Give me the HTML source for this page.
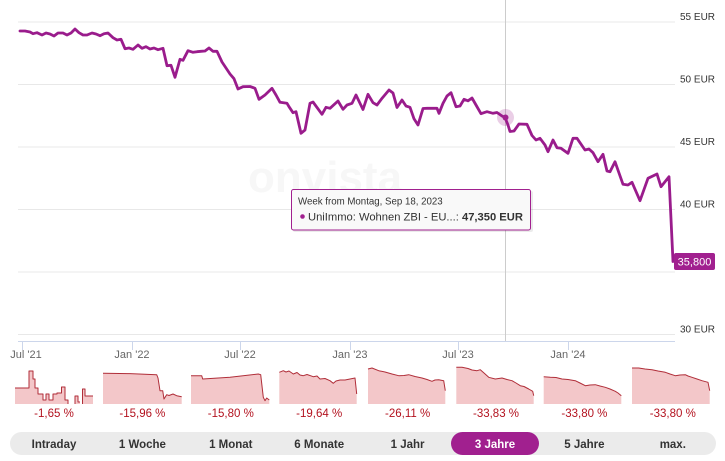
<!DOCTYPE html>
<html><head><meta charset="utf-8">
<style>
html,body{margin:0;padding:0;background:#fff;}
svg{display:block;font-family:"Liberation Sans",sans-serif;}
</style></head>
<body>
<svg width="725" height="461" viewBox="0 0 725 461" xmlns="http://www.w3.org/2000/svg">
<!-- watermark -->
<text x="248" y="192" font-size="44" font-weight="bold" fill="#f7f7f7">onvista</text>
<!-- gridlines -->
<g stroke="#e8e8e8" stroke-width="1">
<line x1="18" y1="22" x2="675" y2="22"/>
<line x1="18" y1="84.5" x2="675" y2="84.5"/>
<line x1="18" y1="147" x2="675" y2="147"/>
<line x1="18" y1="209.5" x2="675" y2="209.5"/>
<line x1="18" y1="272" x2="675" y2="272"/>
<line x1="18" y1="334.5" x2="675" y2="334.5"/>
</g>
<!-- x axis -->
<line x1="18" y1="341.5" x2="675" y2="341.5" stroke="#ccd6eb" stroke-width="1"/>
<g stroke="#ccd6eb" stroke-width="1">
<line x1="22.5" y1="341" x2="22.5" y2="350"/>
<line x1="132.5" y1="341" x2="132.5" y2="350"/>
<line x1="240.5" y1="341" x2="240.5" y2="350"/>
<line x1="350.5" y1="341" x2="350.5" y2="350"/>
<line x1="458.5" y1="341" x2="458.5" y2="350"/>
<line x1="568.5" y1="341" x2="568.5" y2="350"/>
</g>
<g font-size="11" fill="#666" text-anchor="middle">
<text x="26" y="358">Jul '21</text>
<text x="132" y="358">Jan '22</text>
<text x="240" y="358">Jul '22</text>
<text x="350" y="358">Jan '23</text>
<text x="458" y="358">Jul '23</text>
<text x="568" y="358">Jan '24</text>
</g>
<!-- crosshair -->
<line x1="505.5" y1="0" x2="505.5" y2="341" stroke="#cccccc" stroke-width="1"/>
<!-- y labels -->
<g font-size="10" fill="#333">
<text x="680" y="20">55 EUR</text>
<text x="680" y="82.5">50 EUR</text>
<text x="680" y="145">45 EUR</text>
<text x="680" y="207.5">40 EUR</text>
<text x="680" y="332.5">30 EUR</text>
</g>
<!-- main line -->
<polyline fill="none" stroke="#9a1c8c" stroke-width="2.8" stroke-linejoin="round" stroke-linecap="round" points="20,31 25,31 30,32 33,33.7 37,32.7 42,35 46,33 50,34 54,36 58,33 63,33 67,35 71,33 75,29 79,32.7 83,35 87,35 92,33 96,34 100,35.7 104,33.7 108,33 113,37.7 117,40 121,39.3 125,48.7 129,48 133,49.3 138,45 142,48.3 146,46.7 150,49 154,48 158,49.7 163,48.3 167,65.7 171,65.3 175,77.3 180,59.3 183,60.3 188,50.7 193,52.3 197,51.7 201,51.3 205,51 209,48 213,51.3 217,51.3 222,62 226,68 230,74 234,78.7 238,89 243,86.7 250,86.5 255,88.3 259,99.3 265,95 272,88.3 276,95 280,102.3 287,103.3 289,106.7 293,112.7 296,111.7 301,133.3 305,130 310,103.3 313,102 322,114.3 326,107.3 330,108.3 338,101 343,109.3 347,105 352,103.3 356,95 360,103.3 363,109.5 368,94.3 373,102.7 377,105 382,98.3 389,90 393,93 397,107.5 402,100 406,106 410,107.3 414,118.8 418,125 423,108.5 427,108.3 433,108.3 437,108.3 439,113.3 443,103.3 447,96 451,92.7 456,106.7 460,106 464,99.3 468,100.8 472,98 476,105 481,113.7 485,112.3 487,111.7 493,113.3 497,112.5 502,116 505,117.5 508,125 510,131.5 514,131 519,124 527,124.3 532,135.5 536,140 540,138.3 545,145 548,151.7 553,140 557,147.7 561,148.3 568,153.3 573,138.3 577,138.3 585,150 589,149 593,152.7 598,161.7 603,154.3 607,171 610,171.7 615,161.7 623,184.3 628,185 632,182.3 640,200.7 648,178.3 657,174 661,186.7 669,176.7 673,261.5"/>
<!-- hover point -->
<circle cx="505.5" cy="117.5" r="8.5" fill="#a1208f" opacity="0.22"/>
<circle cx="505.5" cy="117.5" r="3" fill="#a1208f"/>
<!-- last value label -->
<rect x="674" y="253" width="41" height="17" rx="2" fill="#a1208f"/>
<text x="694.5" y="265.5" font-size="11" fill="#fff" text-anchor="middle">35,800</text>
<!-- tooltip -->
<rect x="293" y="191" width="240" height="41" rx="2" fill="#000" opacity="0.08"/>
<rect x="291.5" y="189.5" width="239" height="40.5" rx="2" fill="#f9f9f9" stroke="#a1208f" stroke-width="1"/>
<text x="298" y="204.5" font-size="9.7" fill="#333">Week from Montag, Sep 18, 2023</text>
<circle cx="302.5" cy="216.5" r="2.3" fill="#a1208f"/>
<text x="308" y="220.5" font-size="11.2" fill="#333">UniImmo: Wohnen ZBI - EU...: <tspan font-weight="bold">47,350 EUR</tspan></text>
<!-- mini charts: fills -->
<g fill="#f3c7c9" stroke="none">
<path d="M15,388 L29,388 L29,371 L33,371 L33,379 L35,379 L35,388 L38,388 L38,394 L43,394 L43,400 L46,400 L46,394 L49,394 L49,400 L53,400 L53,394 L57,394 L57,393 L61.5,393 L61.5,387 L65,387 L65,400 L68,400 L68,404 L75,404 L75,396 L78,396 L78,402 L80,402 L80,404 L82.5,404 L82.5,389 L85,389 L85,396 L93,396 L93,404 L15,404 Z"/>
<path d="M103,373.3 L130,373.6 L156.7,374.7 L158,378 L160,390.7 L162.7,390.7 L164,399 L166.7,394.7 L169,395.5 L173,394 L176.7,395.7 L181.7,396.7 L181.7,404 L103,404 Z"/>
<path d="M191,375.7 L201.7,375.7 L202.7,379 L230,377.3 L258.3,374 L260.7,374.7 L263.3,397.3 L265,400.7 L266.7,398 L269.3,400 L269.3,404 L191,404 Z"/>
<path d="M279.3,372.3 L283.3,370.7 L286,372 L289,371 L293.3,374 L297,372.5 L300,375 L303.3,375.7 L307,374.5 L313.3,376.7 L317,376 L320,379 L325,378.5 L330,380.7 L333.3,383.3 L336,381 L340,380 L345,380 L350,379 L355,378 L356.7,394 L356.7,404 L279.3,404 Z"/>
<path d="M368,369 L372,368 L378.7,370.7 L385,372 L392,374 L398.7,375.7 L404,375.5 L408.7,374.7 L415,376.5 L422,378 L427,379.5 L432,381.3 L435,380 L438.7,379.7 L443.7,380.7 L445.3,390.7 L445.3,404 L368,404 Z"/>
<path d="M456.3,367.3 L462,367.3 L468,368.5 L472,370 L477,370.7 L480.3,369.7 L484,373 L488.7,377.3 L495.3,379 L502,378 L507,379.5 L512,380.7 L516,383 L520.3,385.7 L524,386.5 L528.7,389 L532.7,391.3 L533.7,395.7 L533.7,404 L456.3,404 Z"/>
<path d="M543.7,376.7 L550.3,377.3 L556,377.5 L562,379 L568,379.5 L575.3,380.7 L580,383 L585.3,385.7 L590,385 L595.3,384.7 L600,386 L605.3,387.3 L610,389 L615.3,391.3 L618,393 L621.3,395.7 L621.3,404 L543.7,404 Z"/>
<path d="M632,368 L638.7,368 L645,369 L652,369.7 L658,371 L665.3,372.3 L670,374 L675.3,375.7 L680,375 L685.3,374.7 L688,376 L692,377.3 L697,379 L702,380.7 L708,382.3 L709.7,390.7 L709.7,404 L632,404 Z"/>
</g>
<!-- mini charts: lines -->
<g fill="none" stroke="#b02e39" stroke-width="1" stroke-linejoin="round">
<path d="M15,388 L29,388 L29,371 L33,371 L33,379 L35,379 L35,388 L38,388 L38,394 L43,394 L43,400 L46,400 L46,394 L49,394 L49,400 L53,400 L53,394 L57,394 L57,393 L61.5,393 L61.5,387 L65,387 L65,400 L68,400 L68,404 M75,404 L75,396 L78,396 L78,402 L80,402 M82.5,404 L82.5,389 L85,389 L85,396 L93,396"/>
<path d="M103,373.3 L130,373.6 L156.7,374.7 L158,378 L160,390.7 L162.7,390.7 L164,399 L166.7,394.7 L169,395.5 L173,394 L176.7,395.7 L181.7,396.7"/>
<path d="M191,375.7 L201.7,375.7 L202.7,379 L230,377.3 L258.3,374 L260.7,374.7 L263.3,397.3 L265,400.7 L266.7,398 L269.3,400"/>
<path d="M279.3,372.3 L283.3,370.7 L286,372 L289,371 L293.3,374 L297,372.5 L300,375 L303.3,375.7 L307,374.5 L313.3,376.7 L317,376 L320,379 L325,378.5 L330,380.7 L333.3,383.3 L336,381 L340,380 L345,380 L350,379 L355,378 L356.7,394"/>
<path d="M368,369 L372,368 L378.7,370.7 L385,372 L392,374 L398.7,375.7 L404,375.5 L408.7,374.7 L415,376.5 L422,378 L427,379.5 L432,381.3 L435,380 L438.7,379.7 L443.7,380.7 L445.3,390.7"/>
<path d="M456.3,367.3 L462,367.3 L468,368.5 L472,370 L477,370.7 L480.3,369.7 L484,373 L488.7,377.3 L495.3,379 L502,378 L507,379.5 L512,380.7 L516,383 L520.3,385.7 L524,386.5 L528.7,389 L532.7,391.3 L533.7,395.7"/>
<path d="M543.7,376.7 L550.3,377.3 L556,377.5 L562,379 L568,379.5 L575.3,380.7 L580,383 L585.3,385.7 L590,385 L595.3,384.7 L600,386 L605.3,387.3 L610,389 L615.3,391.3 L618,393 L621.3,395.7"/>
<path d="M632,368 L638.7,368 L645,369 L652,369.7 L658,371 L665.3,372.3 L670,374 L675.3,375.7 L680,375 L685.3,374.7 L688,376 L692,377.3 L697,379 L702,380.7 L708,382.3 L709.7,390.7"/>
</g>
<g font-size="11.5" fill="#b3121f" text-anchor="middle">
<text x="54" y="417">-1,65 %</text>
<text x="142.4" y="417">-15,96 %</text>
<text x="230.8" y="417">-15,80 %</text>
<text x="319.2" y="417">-19,64 %</text>
<text x="407.6" y="417">-26,11 %</text>
<text x="496" y="417">-33,83 %</text>
<text x="584.4" y="417">-33,80 %</text>
<text x="672.8" y="417">-33,80 %</text>
</g>
<!-- buttons -->
<rect x="10" y="432" width="706" height="23" rx="11.5" fill="#ebebeb"/>
<rect x="451" y="432" width="88" height="23" rx="11.5" fill="#a1208f"/>
<g font-size="11.5" font-weight="bold" fill="#333" text-anchor="middle">
<text x="54" y="448">Intraday</text>
<text x="142.4" y="448">1 Woche</text>
<text x="230.8" y="448">1 Monat</text>
<text x="319.2" y="448">6 Monate</text>
<text x="407.6" y="448">1 Jahr</text>
<text x="495" y="448" fill="#fff">3 Jahre</text>
<text x="584.4" y="448">5 Jahre</text>
<text x="672.8" y="448">max.</text>
</g>
</svg>
</body></html>
